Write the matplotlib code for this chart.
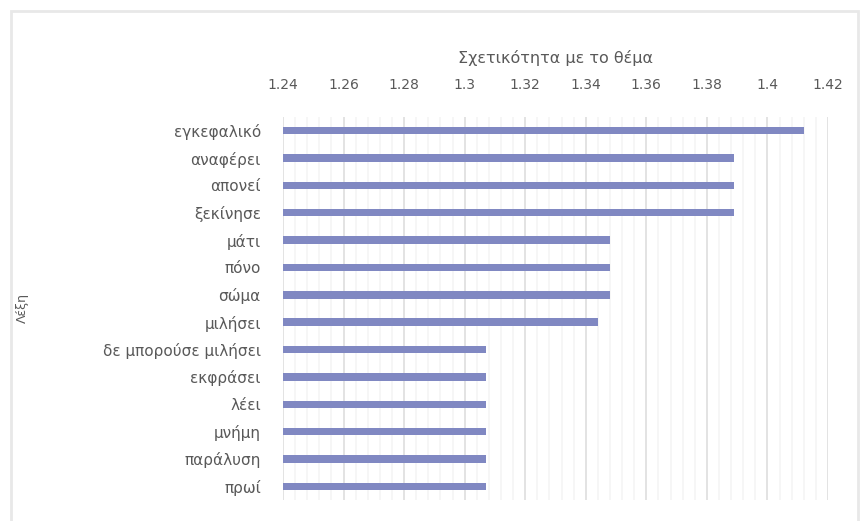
import matplotlib
matplotlib.use('Agg')

import matplotlib.pyplot as plt
from matplotlib.patches import Rectangle
from matplotlib.ticker import MultipleLocator, FuncFormatter

# relevance score per word, top to bottom
words = ['εγκεφαλικό', 'αναφέρει', 'απονεί', 'ξεκίνησε', 'μάτι', 'πόνο', 'σώμα',
         'μιλήσει', 'δε μπορούσε μιλήσει', 'εκφράσει', 'λέει', 'μνήμη',
         'παράλυση', 'πρωί']
scores = [1.412, 1.389, 1.389, 1.389, 1.348, 1.348, 1.348,
          1.344, 1.307, 1.307, 1.307, 1.307, 1.307, 1.307]

x_min, x_max = 1.24, 1.42
text_color = '#595959'
bar_color = '#8088C2'

plt.rcParams['font.family'] = ['DejaVu Sans']

W, H = 863, 521
fig = plt.figure(figsize=(W / 100, H / 100), dpi=100)

# light outer frame of the chart area
fig.patches.append(Rectangle((11 / W, -0.05), 847 / W, 1.05 - 11 / H,
                             transform=fig.transFigure, fill=False,
                             edgecolor='#E8E8E8', linewidth=2))

ax = fig.add_axes([283 / W, 1 - 500 / H, 545 / W, 383 / H])

ypos = range(len(words))
ax.barh(ypos, [s - x_min for s in scores], left=x_min, height=0.27,
        color=bar_color, zorder=3)

ax.set_xlim(x_min, x_max)
ax.set_ylim(len(words) - 0.5, -0.5)
ax.set_yticks(list(ypos))
ax.set_yticklabels(words)

ax.xaxis.set_major_locator(MultipleLocator(0.02))
ax.xaxis.set_minor_locator(MultipleLocator(0.004))
ax.xaxis.set_major_formatter(FuncFormatter(lambda v, p: f'{v:.2f}'.rstrip('0')))
ax.xaxis.tick_top()
ax.xaxis.set_label_position('top')

ax.grid(axis='x', which='major', color='#E0E0E0', linewidth=1.3, zorder=0)
ax.grid(axis='x', which='minor', color='#F6F6F6', linewidth=1.3, zorder=0)
ax.grid(axis='y', visible=False)

for side in ax.spines.values():
    side.set_visible(False)

ax.tick_params(axis='x', which='both', length=0, pad=18, labelsize=10,
               labelcolor=text_color)
ax.tick_params(axis='y', length=0, pad=16, labelsize=11, labelcolor=text_color)

ax.set_xlabel('Σχετικότητα με το θέμα', fontsize=11.5, color=text_color,
              labelpad=11)
fig.text(22 / W, 1 - 308 / H, 'Λέξη', rotation=90, ha='center', va='center',
         fontsize=9, color=text_color)

fig.savefig('out.png', dpi=100)
